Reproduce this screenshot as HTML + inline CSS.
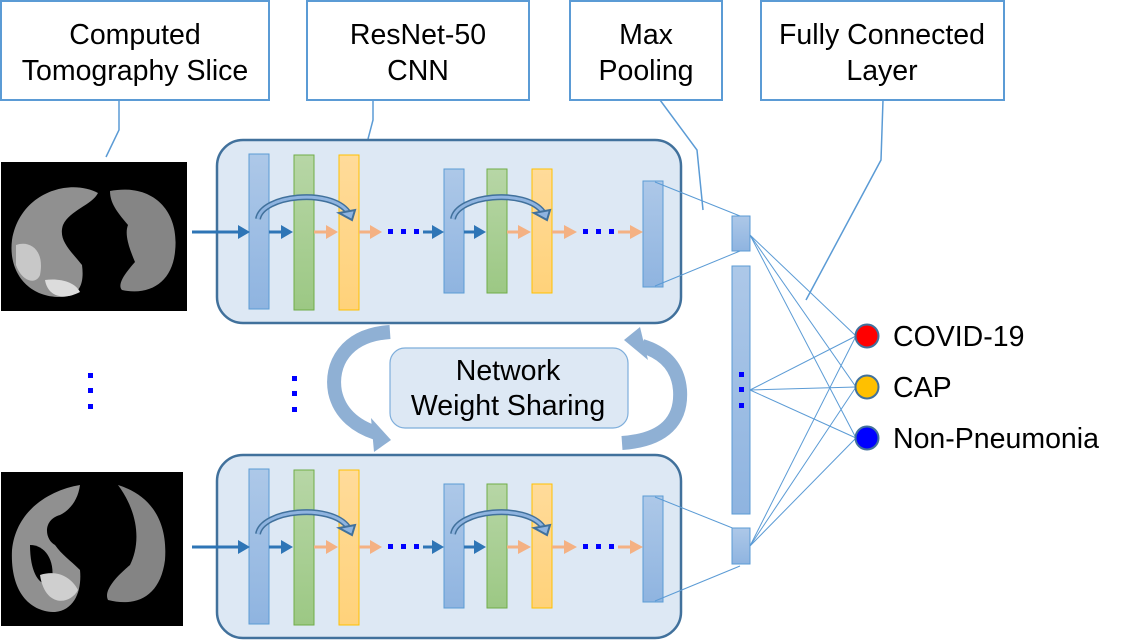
<!DOCTYPE html>
<html><head><meta charset="utf-8"><style>
html,body{margin:0;padding:0;background:#fff;}
svg{display:block;}
text{font-family:"Liberation Sans",Arial,sans-serif;fill:#000;}
</style></head><body>
<svg width="1122" height="640" viewBox="0 0 1122 640" xmlns="http://www.w3.org/2000/svg">
<defs>
<linearGradient id="gb" x1="0" y1="0" x2="0" y2="1"><stop offset="0" stop-color="#adc8e8"/><stop offset="1" stop-color="#8fb4e0"/></linearGradient>
<linearGradient id="gg" x1="0" y1="0" x2="0" y2="1"><stop offset="0" stop-color="#b7d6a6"/><stop offset="1" stop-color="#9cc884"/></linearGradient>
<linearGradient id="go" x1="0" y1="0" x2="0" y2="1"><stop offset="0" stop-color="#ffdb9a"/><stop offset="1" stop-color="#ffd27a"/></linearGradient>
<g id="panel">
  <rect x="217" y="140" width="464" height="183" rx="26" fill="#dde8f4" stroke="#41719c" stroke-width="2.5"/>
  <rect x="249" y="154" width="20" height="155" fill="url(#gb)" stroke="#5b9bd5" stroke-width="1"/>
  <rect x="294" y="155" width="20" height="155" fill="url(#gg)" stroke="#70ad47" stroke-width="1"/>
  <rect x="339" y="155" width="20" height="155" fill="url(#go)" stroke="#ffc000" stroke-width="1"/>
  <rect x="444" y="169" width="20" height="124" fill="url(#gb)" stroke="#5b9bd5" stroke-width="1"/>
  <rect x="487" y="169" width="20" height="124" fill="url(#gg)" stroke="#70ad47" stroke-width="1"/>
  <rect x="532" y="169" width="20" height="124" fill="url(#go)" stroke="#ffc000" stroke-width="1"/>
  <rect x="643" y="181" width="20" height="106" fill="url(#gb)" stroke="#5b9bd5" stroke-width="1"/>
  <line x1="192" y1="232" x2="240" y2="232" stroke="#2e75b6" stroke-width="3"/>
  <polygon points="238,225 250,232 238,239" fill="#2e75b6"/>
  <line x1="269" y1="232" x2="283" y2="232" stroke="#2e75b6" stroke-width="3"/>
  <polygon points="281,225 293,232 281,239" fill="#2e75b6"/>
  <line x1="314" y1="232" x2="328" y2="232" stroke="#f4b183" stroke-width="3"/>
  <polygon points="326,225 338,232 326,239" fill="#f4b183"/>
  <line x1="359" y1="232" x2="372" y2="232" stroke="#f4b183" stroke-width="3"/>
  <polygon points="370,225 382,232 370,239" fill="#f4b183"/>
  <rect x="388" y="229" width="5" height="5" fill="#0000ff"/><rect x="401" y="229" width="5" height="5" fill="#0000ff"/><rect x="414" y="229" width="5" height="5" fill="#0000ff"/>
  <line x1="423" y1="232" x2="434" y2="232" stroke="#2e75b6" stroke-width="3"/>
  <polygon points="432,225 444,232 432,239" fill="#2e75b6"/>
  <line x1="464" y1="232" x2="476" y2="232" stroke="#2e75b6" stroke-width="3"/>
  <polygon points="474,225 486,232 474,239" fill="#2e75b6"/>
  <line x1="507" y1="232" x2="520" y2="232" stroke="#f4b183" stroke-width="3"/>
  <polygon points="518,225 531,232 518,239" fill="#f4b183"/>
  <line x1="552" y1="232" x2="566" y2="232" stroke="#f4b183" stroke-width="3"/>
  <polygon points="564,225 577,232 564,239" fill="#f4b183"/>
  <rect x="583" y="229" width="5" height="5" fill="#0000ff"/><rect x="596" y="229" width="5" height="5" fill="#0000ff"/><rect x="609" y="229" width="5" height="5" fill="#0000ff"/>
  <line x1="618" y1="232" x2="632" y2="232" stroke="#f4b183" stroke-width="3"/>
  <polygon points="630,225 643,232 630,239" fill="#f4b183"/>
  <path d="M258,219 C262,195 330,188 348,212" fill="none" stroke="#41719c" stroke-width="6"/>
  <path d="M258,219 C262,195 330,188 348,212" fill="none" stroke="#8fb4e0" stroke-width="3"/>
  <polygon points="339,213 355,210 352,220" fill="#8fb4e0" stroke="#41719c" stroke-width="2"/>
  <path d="M453,219 C457,195 525,188 543,212" fill="none" stroke="#41719c" stroke-width="6"/>
  <path d="M453,219 C457,195 525,188 543,212" fill="none" stroke="#8fb4e0" stroke-width="3"/>
  <polygon points="534,213 550,210 547,220" fill="#8fb4e0" stroke="#41719c" stroke-width="2"/>
  <line x1="655" y1="182" x2="740" y2="216" stroke="#5b9bd5" stroke-width="1"/>
  <line x1="655" y1="286" x2="740" y2="251" stroke="#5b9bd5" stroke-width="1"/>
</g>
</defs>

<g fill="#fff" stroke="#5b9bd5" stroke-width="2">
<rect x="1" y="1" width="268" height="99"/>
<rect x="307" y="1" width="222" height="99"/>
<rect x="570" y="1" width="152" height="99"/>
<rect x="761" y="1" width="243" height="99"/>
</g>
<g font-size="28.5" text-anchor="middle">
<text x="135" y="44">Computed</text><text x="135" y="80">Tomography Slice</text>
<text x="418" y="44">ResNet-50</text><text x="418" y="80">CNN</text>
<text x="646" y="44">Max</text><text x="646" y="80">Pooling</text>
<text x="882" y="44">Fully Connected</text><text x="882" y="80">Layer</text>
</g>
<g fill="none" stroke="#5b9bd5" stroke-width="1.5">
<polyline points="119,100 119,130 106,157"/>
<polyline points="373,100 373,120 368,139"/>
<polyline points="660,100 697,150 703,210"/>
<polyline points="883,100 881,160 806,300"/>
</g>

<rect x="1" y="162" width="186" height="149" fill="#000"/>
<path d="M98,193 C70,178 20,192 12,240 C8,272 28,298 62,297 C82,296 84,280 82,265 C70,250 58,240 63,225 C70,210 92,205 98,193 Z" fill="#909090"/>
<path d="M110,191 C152,183 180,210 175,252 C172,282 150,296 122,290 C116,284 128,270 135,262 C130,250 124,235 128,225 C120,215 110,205 110,191 Z" fill="#858585"/>
<path d="M16,245 C30,240 45,250 40,275 C36,285 22,282 16,265 Z" fill="#c8c8c8"/>
<path d="M45,280 C60,278 75,282 80,292 C65,300 48,298 45,280 Z" fill="#dcdcdc"/>
<rect x="1" y="472" width="182" height="154" fill="#000"/>
<path d="M80,485 C50,490 16,510 12,550 C10,592 30,612 55,612 C75,610 82,590 80,570 C70,560 62,555 55,545 C45,540 42,520 60,515 C70,510 78,500 80,485 Z" fill="#909090"/>
<path d="M30,545 C45,545 55,560 52,580 C45,590 30,580 30,545 Z" fill="#000"/>
<path d="M118,485 C150,495 168,520 165,560 C160,598 135,607 108,600 C103,590 118,575 130,565 C140,545 140,515 118,485 Z" fill="#848484"/>
<path d="M40,575 C55,570 70,575 78,590 C70,605 45,608 40,575 Z" fill="#cfcfcf"/>

<use href="#panel"/>
<use href="#panel" transform="translate(0,315)"/>

<g fill="#0000ff">
<rect x="88" y="373" width="5" height="5"/><rect x="88" y="388" width="5" height="5"/><rect x="88" y="404" width="5" height="5"/>
<rect x="292" y="376" width="5" height="5"/><rect x="292" y="391" width="5" height="5"/><rect x="292" y="407" width="5" height="5"/>
</g>

<rect x="390" y="348" width="238" height="80" rx="15" fill="#dde8f4" stroke="#7eaedb" stroke-width="1.2"/>
<text x="508" y="380" font-size="28.5" text-anchor="middle">Network</text>
<text x="508" y="415" font-size="28.5" text-anchor="middle">Weight Sharing</text>
<path d="M390,332 C345,335 330,365 335,392 C340,415 358,427 376,433" fill="none" stroke="#8fb0d4" stroke-width="14"/>
<polygon points="371,418 391,440 374,452" fill="#8fb0d4"/>
<path d="M622,443 C665,440 682,420 680,390 C678,365 662,352 642,346" fill="none" stroke="#8fb0d4" stroke-width="14"/>
<polygon points="624,340 640,327 648,360" fill="#8fb0d4"/>

<rect x="732" y="216" width="18" height="35" fill="url(#gb)" stroke="#5b9bd5"/>
<rect x="732" y="266" width="18" height="248" fill="url(#gb)" stroke="#5b9bd5"/>
<rect x="732" y="528" width="18" height="36" fill="url(#gb)" stroke="#5b9bd5"/>
<g fill="#0000ff"><rect x="739" y="372" width="5" height="5"/><rect x="739" y="387" width="5" height="5"/><rect x="739" y="403" width="5" height="5"/></g>
<g stroke="#5b9bd5" stroke-width="1">
<line x1="750" y1="235" x2="856" y2="336"/><line x1="750" y1="235" x2="856" y2="387"/><line x1="750" y1="235" x2="856" y2="438"/>
<line x1="750" y1="390" x2="856" y2="336"/><line x1="750" y1="390" x2="856" y2="387"/><line x1="750" y1="390" x2="856" y2="438"/>
<line x1="750" y1="546" x2="856" y2="336"/><line x1="750" y1="546" x2="856" y2="387"/><line x1="750" y1="546" x2="856" y2="438"/>
</g>
<circle cx="867" cy="336" r="11.5" fill="#ff0000" stroke="#41719c" stroke-width="2"/>
<circle cx="867" cy="387" r="11.5" fill="#ffc000" stroke="#41719c" stroke-width="2"/>
<circle cx="867" cy="438" r="11.5" fill="#0000ff" stroke="#41719c" stroke-width="2"/>
<g font-size="28.5">
<text x="893" y="346">COVID-19</text>
<text x="893" y="397">CAP</text>
<text x="893" y="448">Non-Pneumonia</text>
</g>
</svg>
</body></html>
